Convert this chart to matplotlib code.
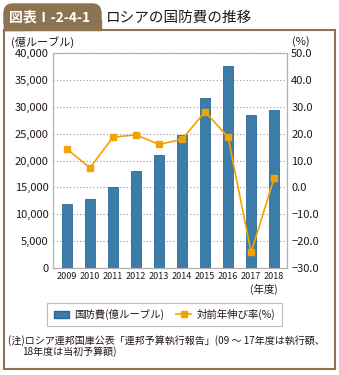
import matplotlib
matplotlib.use("Agg")
import matplotlib.pyplot as plt
from matplotlib.patches import FancyBboxPatch, Rectangle, Patch
from matplotlib.lines import Line2D
from matplotlib.ticker import FuncFormatter, MultipleLocator

plt.rcParams['font.family'] = ['Noto Sans CJK JP', 'DejaVu Sans']

# ---------------------------------------------------------------------------
# Data
# ---------------------------------------------------------------------------
years = ["2009", "2010", "2011", "2012", "2013", "2014", "2015", "2016", "2017", "2018"]
spending = [11800, 12730, 15100, 18050, 21020, 24740, 31700, 37710, 28410, 29470]  # 億ルーブル
growth = [14.2, 7.3, 18.7, 19.6, 16.0, 17.9, 28.2, 18.7, -24.3, 3.4]  # %

BAR_COLOR = "#3b7ca8"
BAR_EDGE = "#2a6a96"
LINE_COLOR = "#f5a200"
FRAME_COLOR = "#8c7352"
TEXT_COLOR = "#231815"

# ---------------------------------------------------------------------------
# Figure
# ---------------------------------------------------------------------------
W, H = 339, 375
fig = plt.figure(figsize=(W / 100, H / 100), dpi=100)
fig.patch.set_facecolor("white")


def fx(px):
    return px / W


def fy(py):
    return 1 - py / H


# outer frame
fig.patches.append(Rectangle((fx(4), fy(369)), fx(331), fy(30) - fy(369),
                             transform=fig.transFigure, fill=False,
                             edgecolor=FRAME_COLOR, linewidth=1.5))
# title tab
fig.patches.append(FancyBboxPatch((fx(4), fy(30)), fx(97), fy(4) - fy(30),
                                  boxstyle="round,pad=0,rounding_size=0.025",
                                  transform=fig.transFigure,
                                  facecolor=FRAME_COLOR, edgecolor=FRAME_COLOR))
fig.patches.append(Rectangle((fx(4), fy(30)), fx(20), fy(10) - fy(30),
                             transform=fig.transFigure,
                             facecolor=FRAME_COLOR, edgecolor=FRAME_COLOR))
fig.patches.append(Rectangle((fx(4), fy(30)), fx(97), fy(20) - fy(30),
                             transform=fig.transFigure,
                             facecolor=FRAME_COLOR, edgecolor=FRAME_COLOR))
fig.text(fx(9), fy(17.5), "図表Ⅰ-2-4-1", color="white", fontsize=10,
         fontweight="bold", va="center", ha="left")
fig.text(fx(106), fy(17.5), "ロシアの国防費の推移", color=TEXT_COLOR, fontsize=10.5,
         va="center", ha="left")

# ---------------------------------------------------------------------------
# Axes
# ---------------------------------------------------------------------------
ax = fig.add_axes([fx(53), fy(267.7), fx(287) - fx(53), fy(53.3) - fy(267.7)])
x = list(range(len(years)))
ax.bar(x, spending, width=0.42, color=BAR_COLOR, edgecolor=BAR_EDGE,
       linewidth=0.6, zorder=2)
ax.set_ylim(0, 40000)
ax.set_xlim(-0.61, 9.56)
ax.yaxis.set_major_locator(MultipleLocator(5000))
ax.yaxis.set_major_formatter(FuncFormatter(lambda v, p: f"{int(v):,}"))
ax.set_xticks(x)
ax.set_xticklabels(years)
ax.grid(axis="y", linestyle=(0, (1, 2)), color="#999999", linewidth=0.8, zorder=0)
for s in ax.spines.values():
    s.set_color("#b0b0b0")
    s.set_linewidth(0.8)
ax.tick_params(axis="y", length=0, labelsize=8, colors=TEXT_COLOR, pad=3)
ax.tick_params(axis="x", length=0, labelsize=6.5, colors=TEXT_COLOR, pad=3)

ax2 = ax.twinx()
ax2.plot(x, growth, color=LINE_COLOR, linewidth=1.2, marker="s",
         markersize=5, markerfacecolor=LINE_COLOR, markeredgecolor=LINE_COLOR, zorder=3)
ax2.set_ylim(-30, 50)
ax2.yaxis.set_major_locator(MultipleLocator(10))
ax2.yaxis.set_major_formatter(FuncFormatter(
    lambda v, p: f"{v:.1f}" if v >= 0 else f"\u2212{abs(v):.1f}"))
ax2.tick_params(axis="y", length=0, labelsize=8, colors=TEXT_COLOR, pad=3)
for s in ax2.spines.values():
    s.set_color("#b0b0b0")
    s.set_linewidth(0.8)

fig.text(fx(11), fy(42), "(億ルーブル)", fontsize=8, color=TEXT_COLOR,
         va="center", ha="left")
fig.text(fx(292), fy(42), "(%)", fontsize=8, color=TEXT_COLOR,
         va="center", ha="left")
fig.text(fx(264), fy(289), "(年度)", fontsize=7.5, color=TEXT_COLOR,
         va="center", ha="center")

# legend
handles = [Patch(facecolor=BAR_COLOR, edgecolor=BAR_EDGE),
           Line2D([], [], color=LINE_COLOR, marker="s", markersize=4, linewidth=1.2)]
leg = fig.legend(handles, ["国防費(億ルーブル)", "対前年伸び率(%)"],
                 loc="center", bbox_to_anchor=(fx(164.5), fy(314.5)), ncol=2,
                 fontsize=7.5, frameon=True, fancybox=False, handlelength=1.5,
                 columnspacing=1.1, borderpad=0.6, handletextpad=0.5)
leg.get_frame().set_edgecolor("#b0b0b0")
leg.get_frame().set_linewidth(0.8)
for t in leg.get_texts():
    t.set_color(TEXT_COLOR)

# note
fig.text(fx(8), fy(341), "(注)ロシア連邦国庫公表「連邦予算執行報告」(09 〜 17年度は執行額、",
         fontsize=7.2, color=TEXT_COLOR, va="center", ha="left")
fig.text(fx(22), fy(352), "18年度は当初予算額)",
         fontsize=7.2, color=TEXT_COLOR, va="center", ha="left")

fig.savefig("out.png", dpi=100)
